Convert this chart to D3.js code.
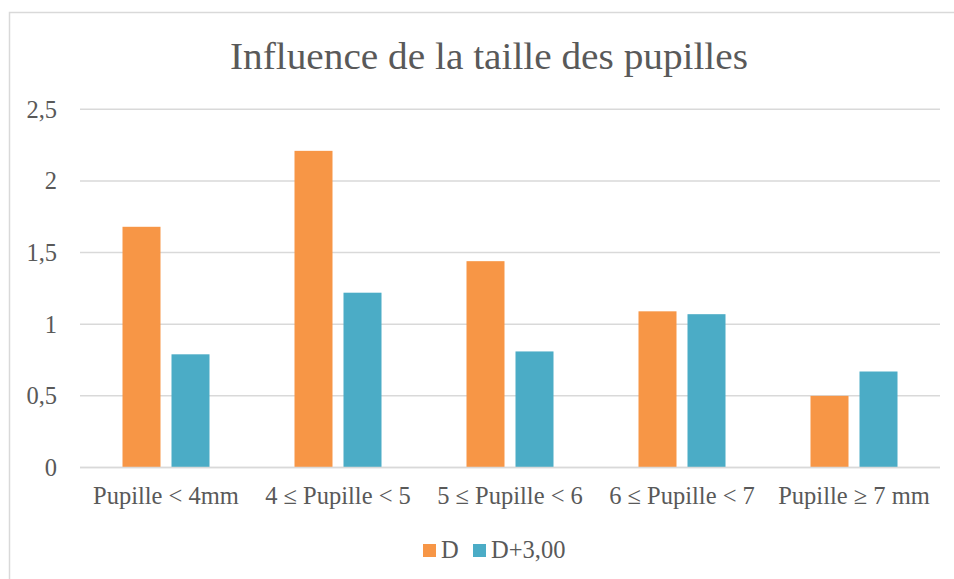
<!DOCTYPE html>
<html>
<head>
<meta charset="utf-8">
<script src="https://cdn.jsdelivr.net/npm/d3@7"></script>
<style>
  body { margin: 0; background: #fff; }
  text { font-family: "Liberation Serif", "DejaVu Serif", serif; fill: #595959; }
</style>
</head>
<body>
<div id="chart"></div>
<script>
// Data
var categories = ["Pupille < 4mm", "4 \u2264 Pupille < 5", "5 \u2264 Pupille < 6", "6 \u2264 Pupille < 7", "Pupille \u2265 7 mm"];
var seriesNames = ["D", "D+3,00"];
var valuesD = [1.68, 2.21, 1.44, 1.09, 0.50];
var valuesD3 = [0.79, 1.22, 0.81, 1.07, 0.67];
var yTicks = [0, 0.5, 1, 1.5, 2, 2.5];
var colors = ["#F79646", "#4BACC6"];

// svg dimension
var svgWidth = 954;
var svgHeight = 579;

// plot area
var plotLeft = 80;
var plotRight = 940;
var plotTop = 109.3;
var plotBottom = 467.5;

var labelSize = 24.5;

var svg = d3.select("#chart")
  .append("svg")
  .attr("width", svgWidth)
  .attr("height", svgHeight);

// chart area border (runs off the right/bottom edge)
svg.append("rect")
  .attr("x", 9.5)
  .attr("y", 12.5)
  .attr("width", 1000)
  .attr("height", 1000)
  .attr("fill", "none")
  .attr("stroke", "#d9d9d9")
  .attr("stroke-width", 1.5);

var rows = categories.map((c, i) => ({cat: c, vals: [valuesD[i], valuesD3[i]]}));

// scales
var x0 = d3.scaleBand()
  .domain(categories)
  .range([plotLeft, plotRight])
  .padding(0);

var groupW = 87;
var x1 = d3.scaleBand()
  .domain(d3.range(seriesNames.length))
  .range([(x0.bandwidth() - groupW) / 2, (x0.bandwidth() + groupW) / 2])
  .paddingInner(11 / 49);

var y = d3.scaleLinear()
  .domain([0, 2.5])
  .range([plotBottom, plotTop]);

// gridlines
svg.append("g")
  .selectAll("line")
  .data(yTicks)
  .enter()
  .append("line")
  .attr("x1", plotLeft)
  .attr("x2", plotRight)
  .attr("y1", d => y(d))
  .attr("y2", d => y(d))
  .attr("stroke", "#d9d9d9")
  .attr("stroke-width", 1.5);

// y axis labels
var fmt = d => d3.format("")(d).replace(".", ",");
var yAxis = d3.axisLeft(y)
  .tickValues(yTicks)
  .tickFormat(fmt)
  .tickSize(0)
  .tickPadding(23);

var yG = svg.append("g")
  .attr("transform", `translate(${plotLeft},0)`)
  .call(yAxis);
yG.select(".domain").remove();
yG.selectAll("text")
  .attr("font-family", null)
  .attr("font-size", labelSize)
  .attr("fill", "#595959");
yG.attr("font-family", null).attr("font-size", null);

// bars
var groups = svg.append("g")
  .selectAll("g")
  .data(rows)
  .enter()
  .append("g")
  .attr("transform", d => `translate(${x0(d.cat)},0)`);

groups.selectAll("rect")
  .data(d => d.vals)
  .enter()
  .append("rect")
  .attr("x", (d, i) => x1(i))
  .attr("width", x1.bandwidth())
  .attr("y", d => y(d))
  .attr("height", d => y(0) - y(d))
  .attr("fill", (d, i) => colors[i]);

// baseline on top of bars
svg.append("line")
  .attr("x1", plotLeft)
  .attr("x2", plotRight)
  .attr("y1", y(0))
  .attr("y2", y(0))
  .attr("stroke", "#d9d9d9")
  .attr("stroke-width", 1.5);

// x axis labels
var xAxis = d3.axisBottom(x0)
  .tickSize(0)
  .tickPadding(19);

var xG = svg.append("g")
  .attr("transform", `translate(0,${plotBottom})`)
  .call(xAxis);
xG.select(".domain").remove();
xG.attr("font-family", null).attr("font-size", null);
xG.selectAll("text")
  .attr("font-size", labelSize)
  .attr("fill", "#595959");

// title
svg.append("text")
  .attr("x", 489)
  .attr("y", 69)
  .attr("text-anchor", "middle")
  .attr("font-size", 37)
  .attr("textLength", 518)
  .attr("lengthAdjust", "spacingAndGlyphs")
  .text("Influence de la taille des pupilles");

// legend
var legendItems = [
  {name: seriesNames[0], color: colors[0], x: 423},
  {name: seriesNames[1], color: colors[1], x: 473}
];
var legend = svg.append("g");
legend.selectAll("rect")
  .data(legendItems)
  .enter()
  .append("rect")
  .attr("x", d => d.x)
  .attr("y", 544)
  .attr("width", 13)
  .attr("height", 13)
  .attr("fill", d => d.color);
legend.selectAll("text")
  .data(legendItems)
  .enter()
  .append("text")
  .attr("x", d => d.x + 18)
  .attr("y", 558)
  .attr("font-size", labelSize)
  .text(d => d.name);
</script>
</body>
</html>
